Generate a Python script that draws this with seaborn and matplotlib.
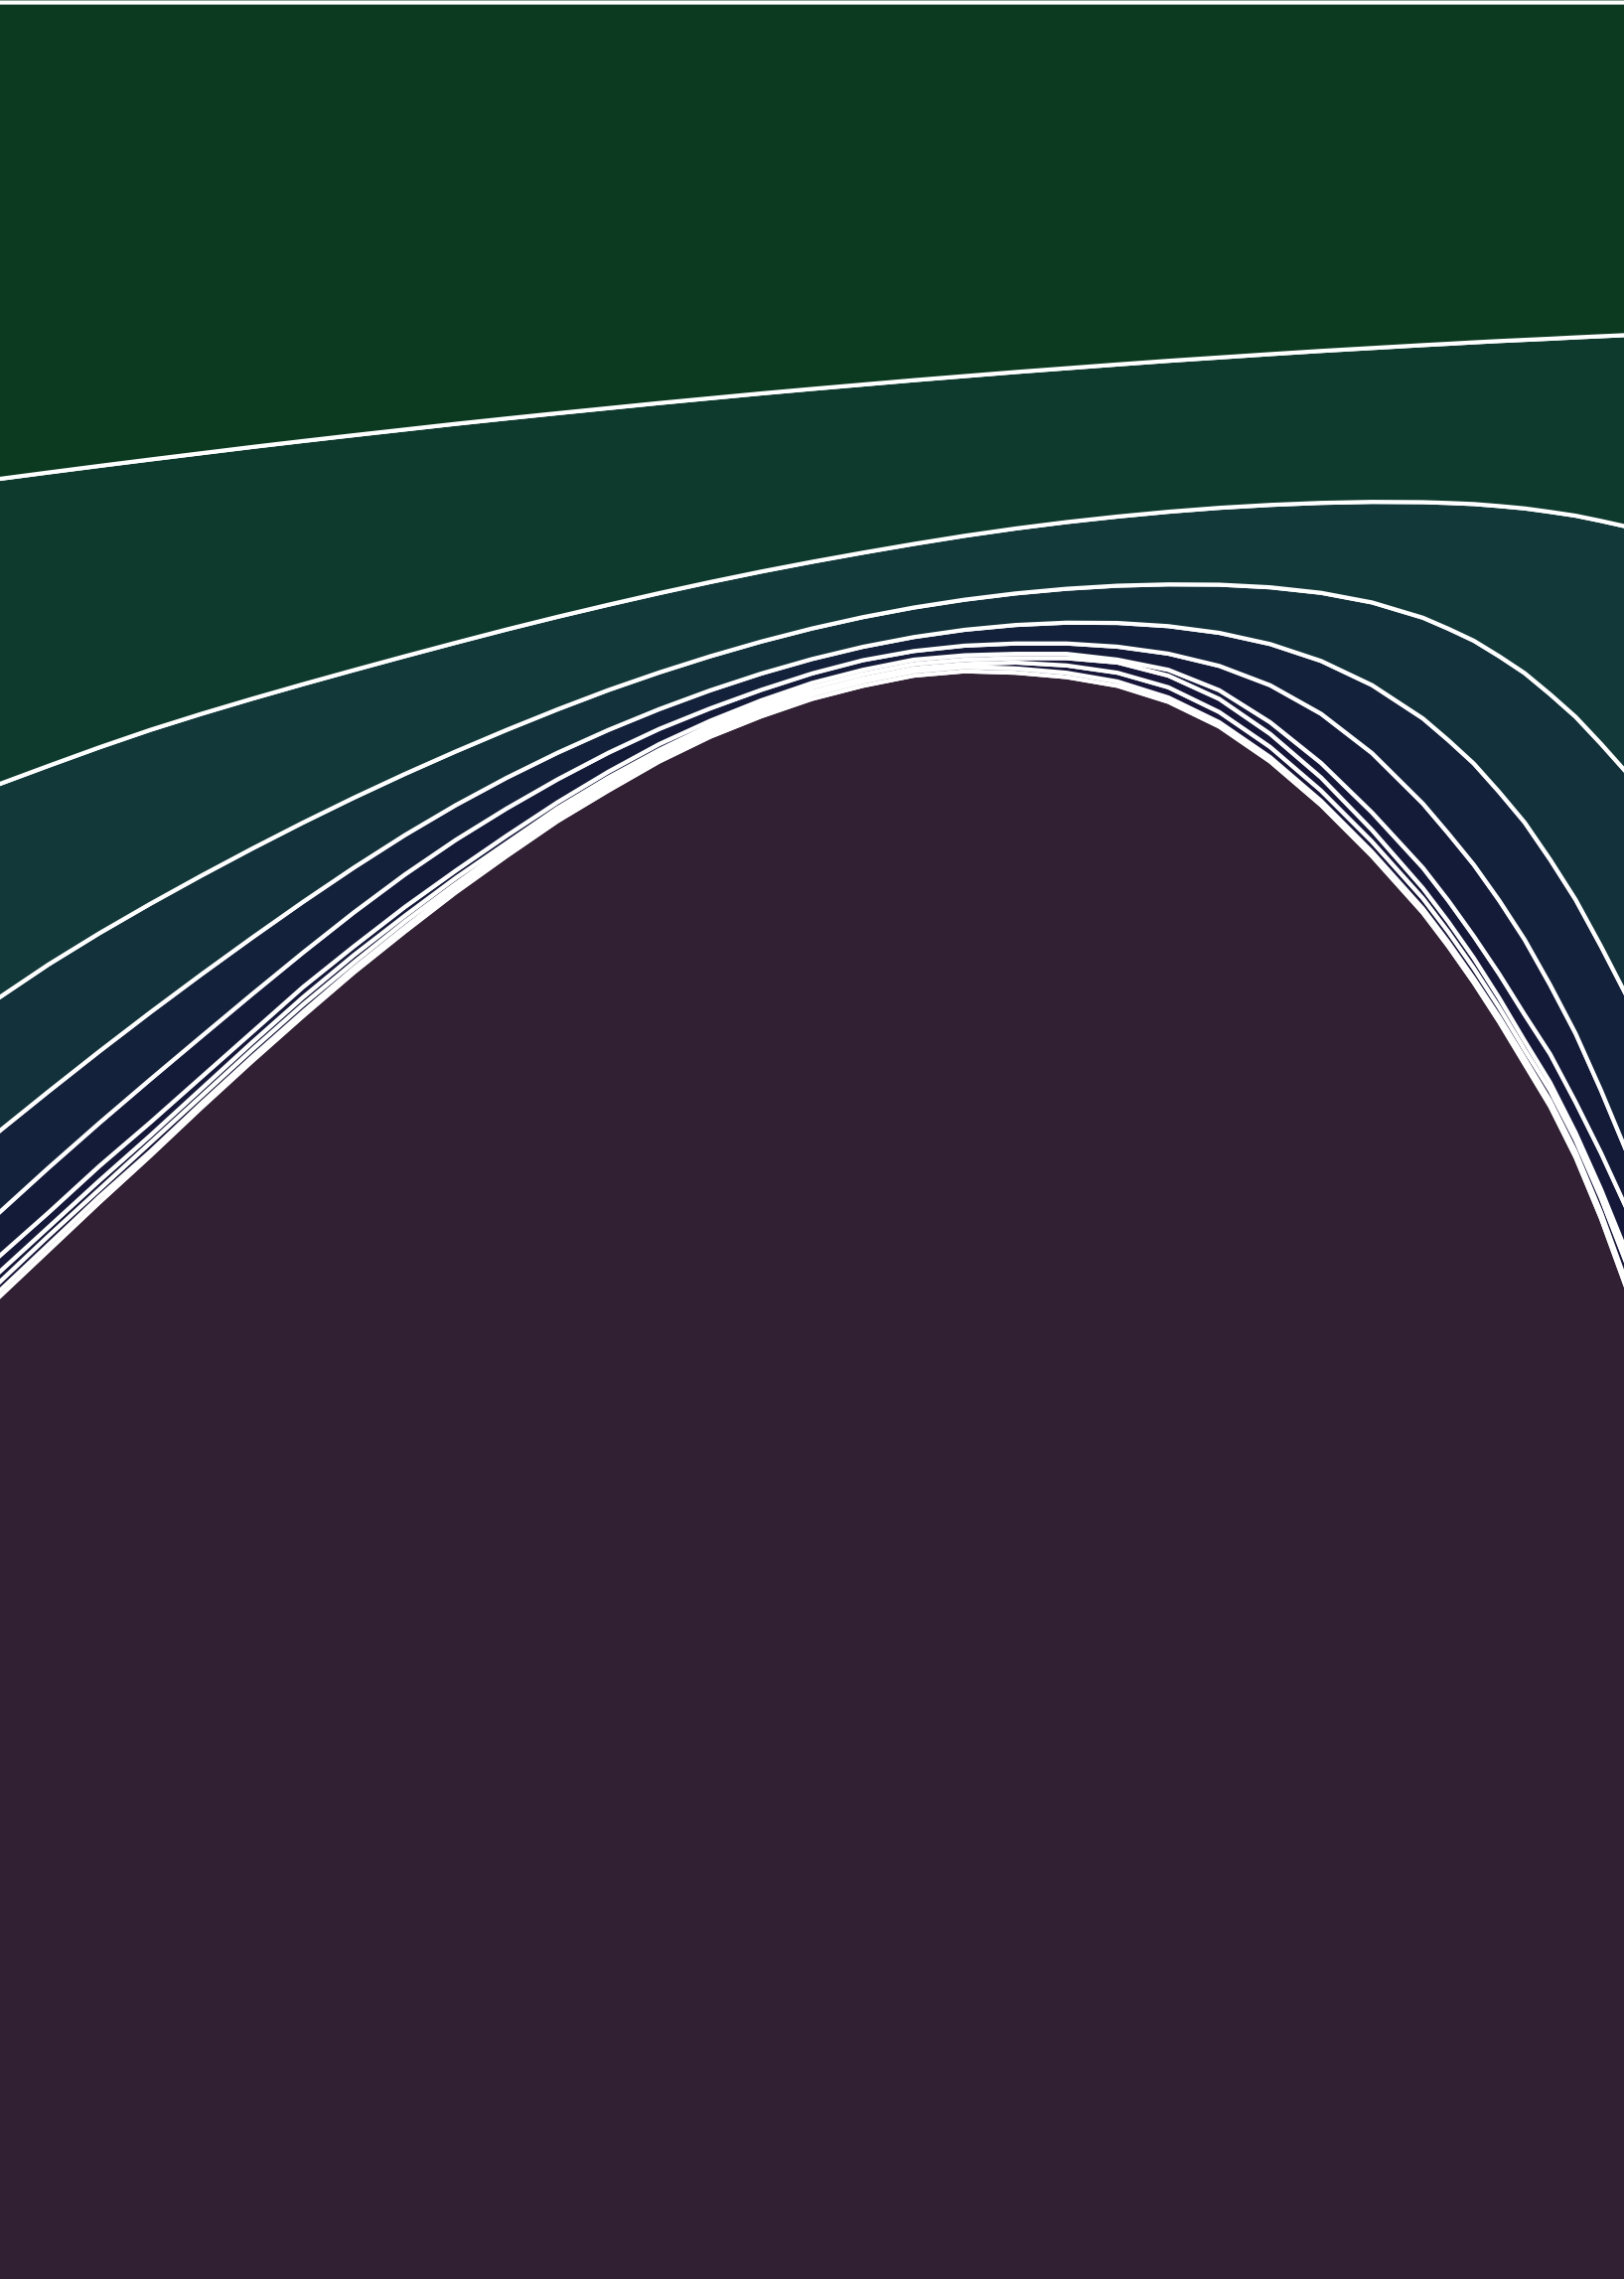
import numpy as np
import pandas as pd
import matplotlib
matplotlib.use("Agg")
import matplotlib.pyplot as plt
import seaborn as sns

# sample positions across the chart (denser near the steep right edge)
x = list(range(29)) + [28.5, 29, 29.5, 30, 30.5, 31, 31.5, 32]

# layer values (relative shares, normalised per column), bottom to top
purple = [676, 709, 742, 774, 807, 839, 870, 900, 928, 955, 980, 1004, 1025, 1045, 1062, 1076, 1088,
          1097, 1104, 1107, 1106, 1103, 1097, 1086, 1069, 1045, 1015, 980,
          941, 918, 893, 866, 837, 808, 773, 731, 683]
thin_a = [4, 4, 4, 3, 3, 3, 3, 3, 3, 3, 3, 3, 3, 3, 3, 3, 3, 3, 3, 3, 3, 3, 3, 3, 3, 3, 3, 3,
          3, 3, 3, 3.5, 4, 4, 4, 4, 4]
thin_b = [6, 6, 5, 6, 5, 5, 5, 4, 4, 3, 3, 3, 3, 2, 2, 2, 2, 2, 2, 2, 4, 5, 6, 7, 7, 7, 7, 7,
          7, 7, 7, 6.5, 6, 7, 8, 10, 13]
thin_c = [7, 6, 6, 5, 5, 5, 5, 5, 4, 4, 3, 3, 3, 3, 3, 3, 3, 3, 3, 3, 3, 5, 7, 8, 9, 9, 9, 8,
          7, 7, 7, 6.5, 6, 5.5, 5, 6, 8]
thin_d = [11, 10, 10, 9, 8, 7, 7, 6, 6, 5, 5, 4, 4, 4, 3, 3, 3, 3, 3, 3, 3, 3, 2, 4, 6, 8, 10, 12,
          14, 14.5, 15, 16.5, 18, 19.5, 21, 25, 30]
band_e = [30.0, 30.8, 29.6, 29.5, 27.9, 26.1, 23.7, 23.3, 22.3, 21.1, 18.7, 15.7, 13.0, 10.4, 8.5, 7.2, 6.5,
          6.6, 5.9, 6.6, 7.1, 7.1, 8.9, 11.1, 16.7, 25.4, 33.8, 40.8,
          44.1, 46.1, 49.1, 50.5, 51.6, 47.5, 47.1, 43.0, 39.1]
band_f = [56.0, 52.4, 49.2, 46.1, 42.7, 38.8, 34.8, 30.8, 27.1, 23.9, 21.1, 18.3, 15.7, 13.6, 12.4, 11.2, 9.9,
          9.2, 9.6, 10.9, 12.7, 14.3, 16.3, 18.9, 22.7, 28.3, 36.3, 46.7,
          58.5, 64.1, 69.5, 74.5, 80.5, 86.1, 92.0, 99.0, 107.0]
band_g = [92.0, 87.3, 81.2, 74.6, 67.9, 61.2, 54.5, 48.0, 42.0, 36.9, 32.9, 29.8, 27.4, 25.2, 23.4, 22.0, 21.0,
          20.4, 20.3, 20.7, 21.7, 23.3, 25.6, 28.7, 33.1, 39.0, 46.8, 56.8,
          69.2, 76.6, 84.4, 93.3, 102.6, 113.6, 125.6, 139.1, 153.4]
band_h = [147.0, 136.5, 127.7, 119.5, 111.2, 103.0, 95.1, 87.7, 80.9, 74.7, 69.0, 63.6, 58.6, 54.5, 51.0, 48.1, 45.8,
          44.3, 43.7, 43.9, 44.6, 45.8, 47.5, 49.9, 52.8, 56.6, 61.8, 69.1,
          79.4, 86.4, 93.9, 103.2, 113.2, 125.3, 138.2, 153.2, 168.9]
band_i = [210.0, 201.6, 193.4, 185.8, 179.1, 173.0, 167.1, 161.4, 155.8, 150.4, 145.0, 139.9, 135.1, 130.6, 126.3, 122.4, 118.8,
          115.5, 112.5, 109.7, 107.5, 105.7, 104.5, 103.7, 103.3, 103.6, 104.4, 105.7,
          107.9, 109.4, 111.1, 113.4, 115.8, 119.0, 122.5, 126.9, 131.6]
band_j = [327.5, 322.9, 318.4, 314.0, 309.7, 305.4, 301.3, 297.3, 293.4, 289.5, 285.8, 282.2, 278.7, 275.2, 271.9, 268.6, 265.5,
          262.5, 259.5, 256.7, 253.9, 251.3, 248.7, 246.2, 243.9, 241.6, 239.4, 237.4,
          235.4, 234.5, 233.5, 232.6, 231.8, 231.0, 230.1, 229.3, 228.5]

layer_colors = ["#312033", "#181438", "#171538", "#161639", "#151839", "#141b39",
                "#13213a", "#12313a", "#12383a", "#0e3a2e", "#0b3a20"]

layers = [purple, thin_a, thin_b, thin_c, thin_d, band_e, band_f, band_g, band_h, band_i, band_j]
df = pd.DataFrame(np.array(layers, dtype=float).T, index=x)
df = df.div(df.sum(axis=1), axis=0)

sns.set_theme(style="white")
fig = plt.figure(figsize=(8.175, 11.47), dpi=200, facecolor=layer_colors[-1])
ax = fig.add_axes([0, 0, 1, 1])
ax.stackplot(df.index, [df[c] for c in df.columns], colors=sns.color_palette(layer_colors),
             edgecolor="white", linewidth=1.5)
ax.set_xlim(0.05, 31.95)
ax.set_ylim(0.0015, 1.0011)
ax.set_axis_off()
sns.despine(ax=ax, left=True, bottom=True)
fig.savefig("out.png", dpi=200, facecolor=fig.get_facecolor())
